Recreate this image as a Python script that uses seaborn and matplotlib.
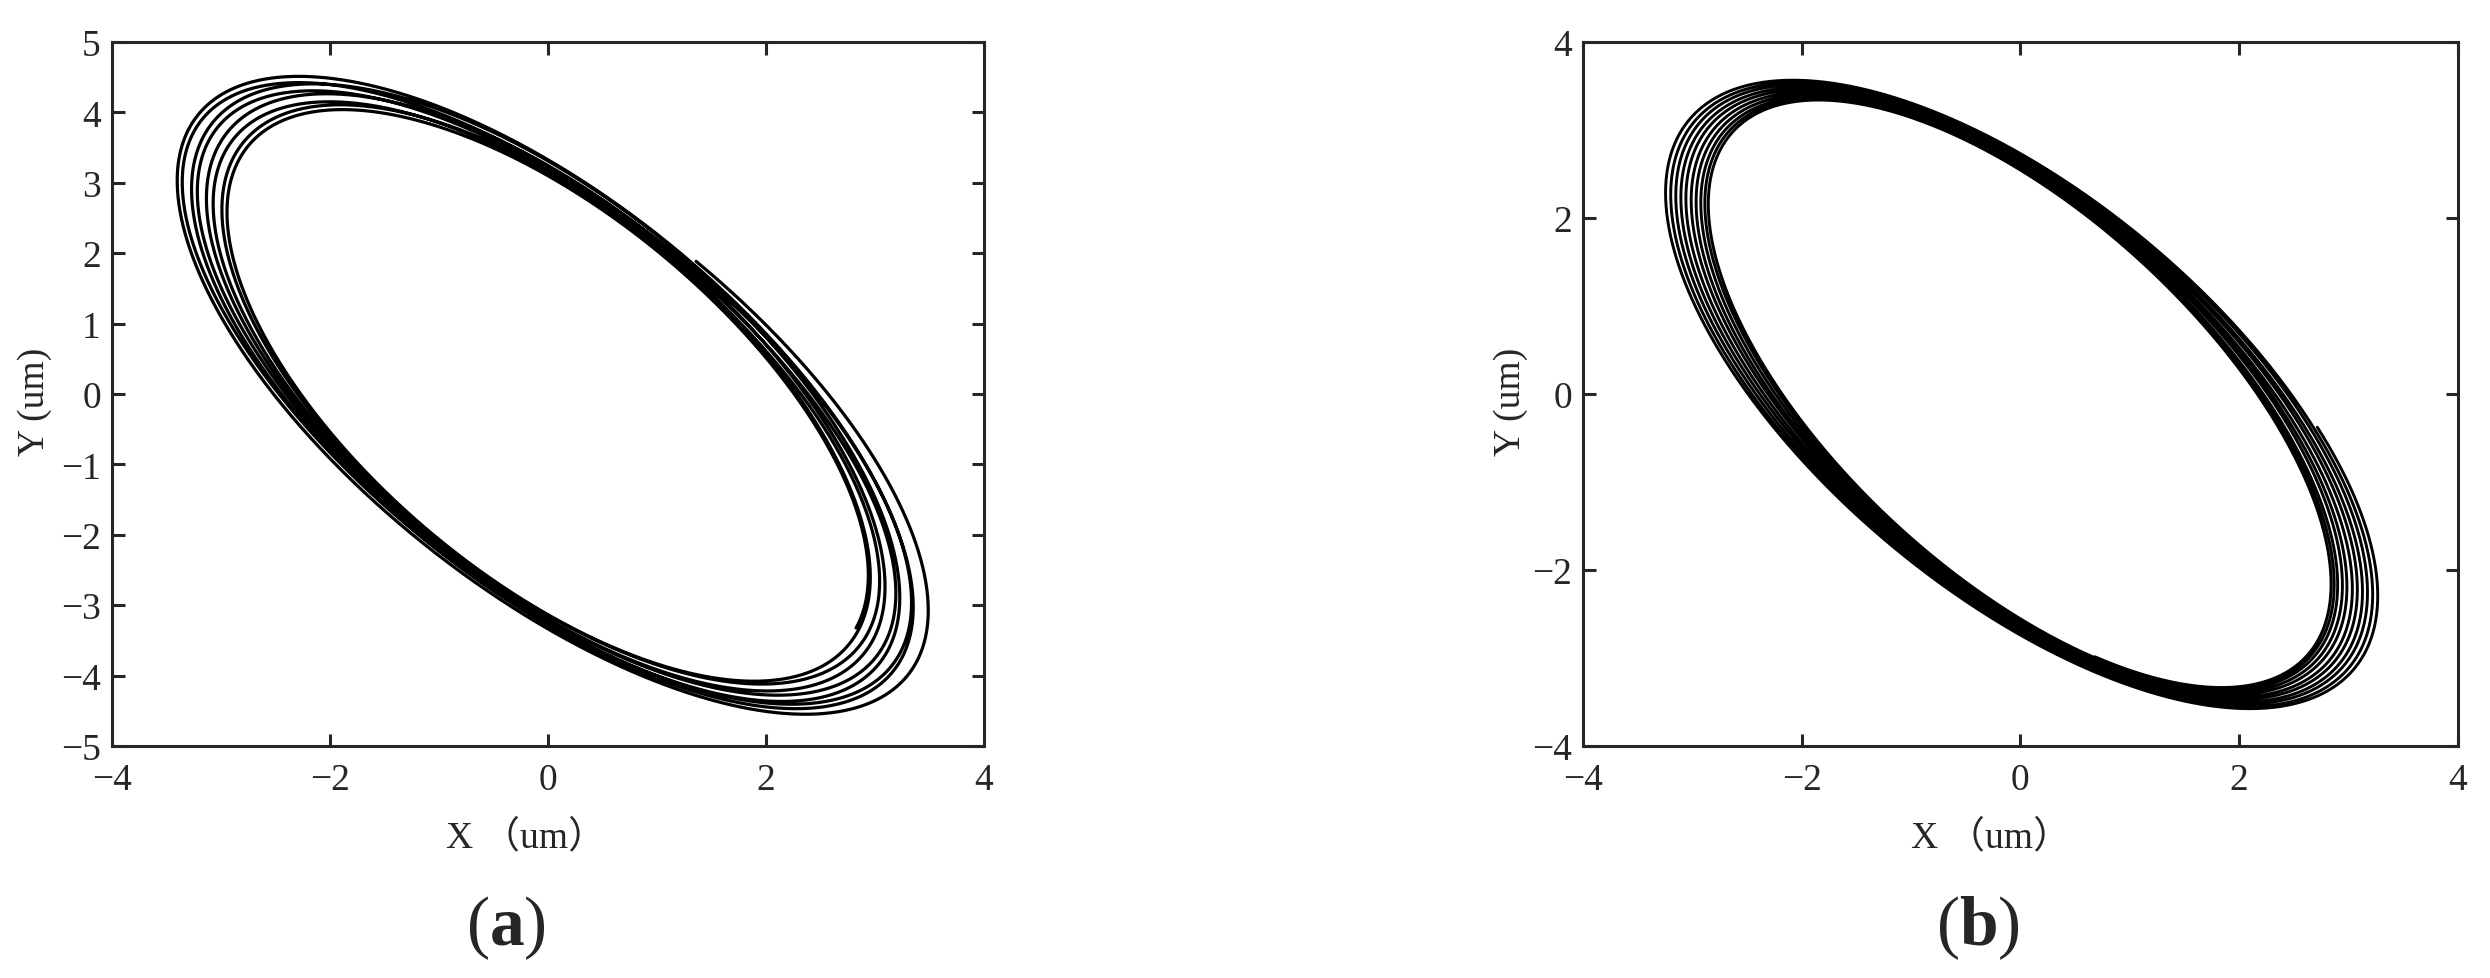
import numpy as np
import pandas as pd
import matplotlib
matplotlib.use("Agg")
import matplotlib.pyplot as plt
import seaborn as sns

# per-loop ellipse parameters (data units, um)
# panel (a): loops from the first (outer) to the last (inner)
loops_a = [0, 1, 2, 3, 4, 5, 6, 7, 8]
major_a = [5.33, 5.18, 5.12, 5.03, 4.94, 4.84, 4.72, 4.64, 4.57]
minor_a = [2.21, 2.15, 2.12, 2.13, 2.07, 2.08, 2.03, 2.02, 1.99]
tilt_a = [-55.6, -57.0, -56.0, -57.8, -56.8, -58.3, -57.5, -58.8, -58.3]
start_a = 98.5      # phase (deg) of the free end at (1.4, 1.95)
turns_a = 8.22      # number of turns drawn

# panel (b)
loops_b = [0, 1, 2, 3, 4, 5, 6, 7, 8, 9, 10]
major_b = [4.40, 4.36, 4.31, 4.27, 4.22, 4.18, 4.13, 4.09, 4.05, 4.02, 3.99]
minor_b = [2.04, 2.02, 2.00, 1.97, 1.95, 1.92, 1.90, 1.88, 1.85, 1.83, 1.81]
tilt_b = [-49.0, -49.4, -49.7, -50.0, -50.3, -50.6, -51.0, -51.3, -51.6, -51.8, -52.0]
start_b = 62.0      # phase of the free end at (2.77, -0.38)
turns_b = 10.3

xticks_a = [-4, -2, 0, 2, 4]
yticks_a = [-5, -4, -3, -2, -1, 0, 1, 2, 3, 4, 5]
xticks_b = [-4, -2, 0, 2, 4]
yticks_b = [-4, -2, 0, 2, 4]


def trace(loops, major, minor, tilt, start, turns, n_per_turn=900):
    s = np.linspace(0, turns * 360.0, int(turns * n_per_turn))
    k = s / 360.0
    a = np.interp(k, loops, major)
    b = np.interp(k, loops, minor)
    al = np.radians(np.interp(k, loops, tilt))
    t = np.radians(start - s)
    x = a * np.cos(t) * np.cos(al) - b * np.sin(t) * np.sin(al)
    y = a * np.cos(t) * np.sin(al) + b * np.sin(t) * np.cos(al)
    return pd.DataFrame({"x": x, "y": y, "step": np.arange(len(s))})


df_a = trace(loops_a, major_a, minor_a, tilt_a, start_a, turns_a)
df_b = trace(loops_b, major_b, minor_b, tilt_b, start_b, turns_b)

sns.set_style("ticks")
plt.rcParams["font.family"] = ["Liberation Serif", "Noto Sans CJK SC"]
plt.rcParams["mathtext.fontset"] = "custom"
plt.rcParams["mathtext.rm"] = "Liberation Serif"
plt.rcParams["mathtext.bf"] = "Liberation Serif:bold"

fig = plt.figure(figsize=(24.9, 9.79), dpi=100)
ax1 = fig.add_axes([0.045, 0.237, 0.3502, 0.719])
ax2 = fig.add_axes([0.6357, 0.237, 0.3514, 0.719])

panels = [
    (ax1, df_a, (-4, 4), (-5, 5), xticks_a, yticks_a, "(a)", 2.3, -0.089, 0.474, 0.452),
    (ax2, df_b, (-4, 4), (-4, 4), xticks_b, yticks_b, "(b)", 2.1, -0.083, 0.466, 0.451),
]

for ax, df, xl, yl, xt, yt, tag, lw, ylab_x, xlab_x, tag_x in panels:
    sns.lineplot(data=df, x="x", y="y", sort=False, estimator=None,
                 color="black", linewidth=lw, ax=ax)
    ax.set_xlim(*xl)
    ax.set_ylim(*yl)
    ax.set_xticks(xt)
    ax.set_yticks(yt)
    ax.tick_params(direction="in", length=9, width=2.2, labelsize=27,
                   top=True, right=True)
    ax.tick_params(axis="x", pad=12)
    ax.tick_params(axis="y", pad=8)
    for sp in ax.spines.values():
        sp.set_linewidth(2.2)
        sp.set_visible(True)
    ax.set_xlabel("X （um）", fontsize=27)
    ax.set_ylabel("Y (um)", fontsize=27)
    ax.xaxis.set_label_coords(xlab_x, -0.129)
    ax.xaxis.label.set_va("center")
    ax.yaxis.set_label_coords(ylab_x, 0.49)
    ax.yaxis.label.set_va("center")
    ax.text(tag_x, -0.257, "(" + r"$\mathbf{" + tag[1] + "}$" + ")",
            transform=ax.transAxes, ha="center", va="center", fontsize=50)

fig.savefig("out.png", dpi=100, facecolor="white")
